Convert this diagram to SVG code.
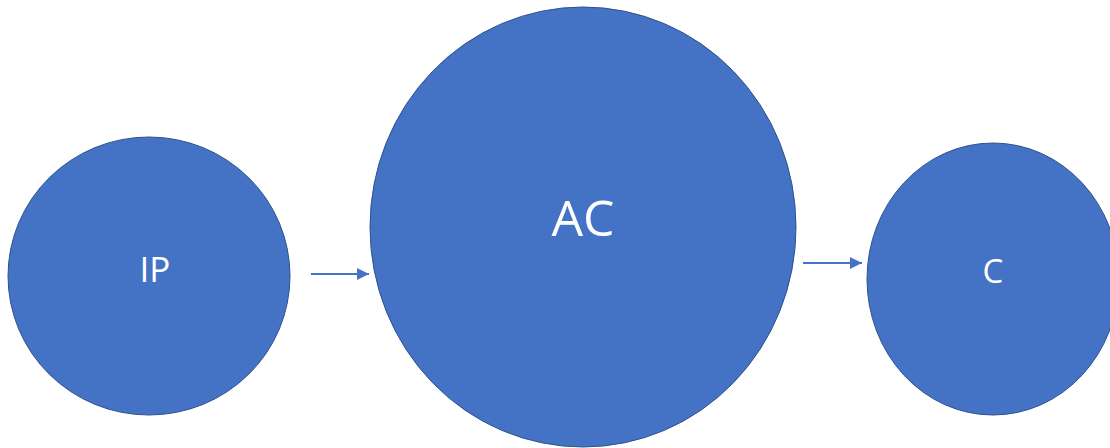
<svg xmlns="http://www.w3.org/2000/svg" width="1110" height="448" viewBox="0 0 1110 448">
  <style>
    .node { fill: #4472C4; stroke: #2F528F; stroke-width: 1; }
    .label { fill: #FFFFFF; font-family: "Open Sans", "Noto Sans", sans-serif; text-anchor: middle; }
    .conn { stroke: #4472C4; stroke-width: 1.8; fill: none; }
  </style>
  <defs>
    <marker id="arrow" markerWidth="12" markerHeight="12" refX="12" refY="6" orient="auto" markerUnits="userSpaceOnUse">
      <path d="M0,0 L12,6 L0,12 Z" fill="#4472C4"/>
    </marker>
  </defs>
  <rect width="1110" height="448" fill="#FFFFFF"/>
  <g id="node-ip">
    <ellipse class="node" cx="149" cy="276" rx="141" ry="139"/>
    <text class="label" x="155" y="282" font-size="35">IP</text>
  </g>
  <g id="node-ac">
    <ellipse class="node" cx="583" cy="227" rx="213" ry="220"/>
    <text class="label" x="583" y="236" font-size="50">AC</text>
  </g>
  <g id="node-c">
    <ellipse class="node" cx="993" cy="279" rx="126" ry="136"/>
    <text class="label" x="993" y="283" font-size="33">C</text>
  </g>
  <g id="connectors">
    <line class="conn" x1="311" y1="274" x2="369" y2="274" marker-end="url(#arrow)"/>
    <line class="conn" x1="803" y1="263" x2="862" y2="263" marker-end="url(#arrow)"/>
  </g>
</svg>
